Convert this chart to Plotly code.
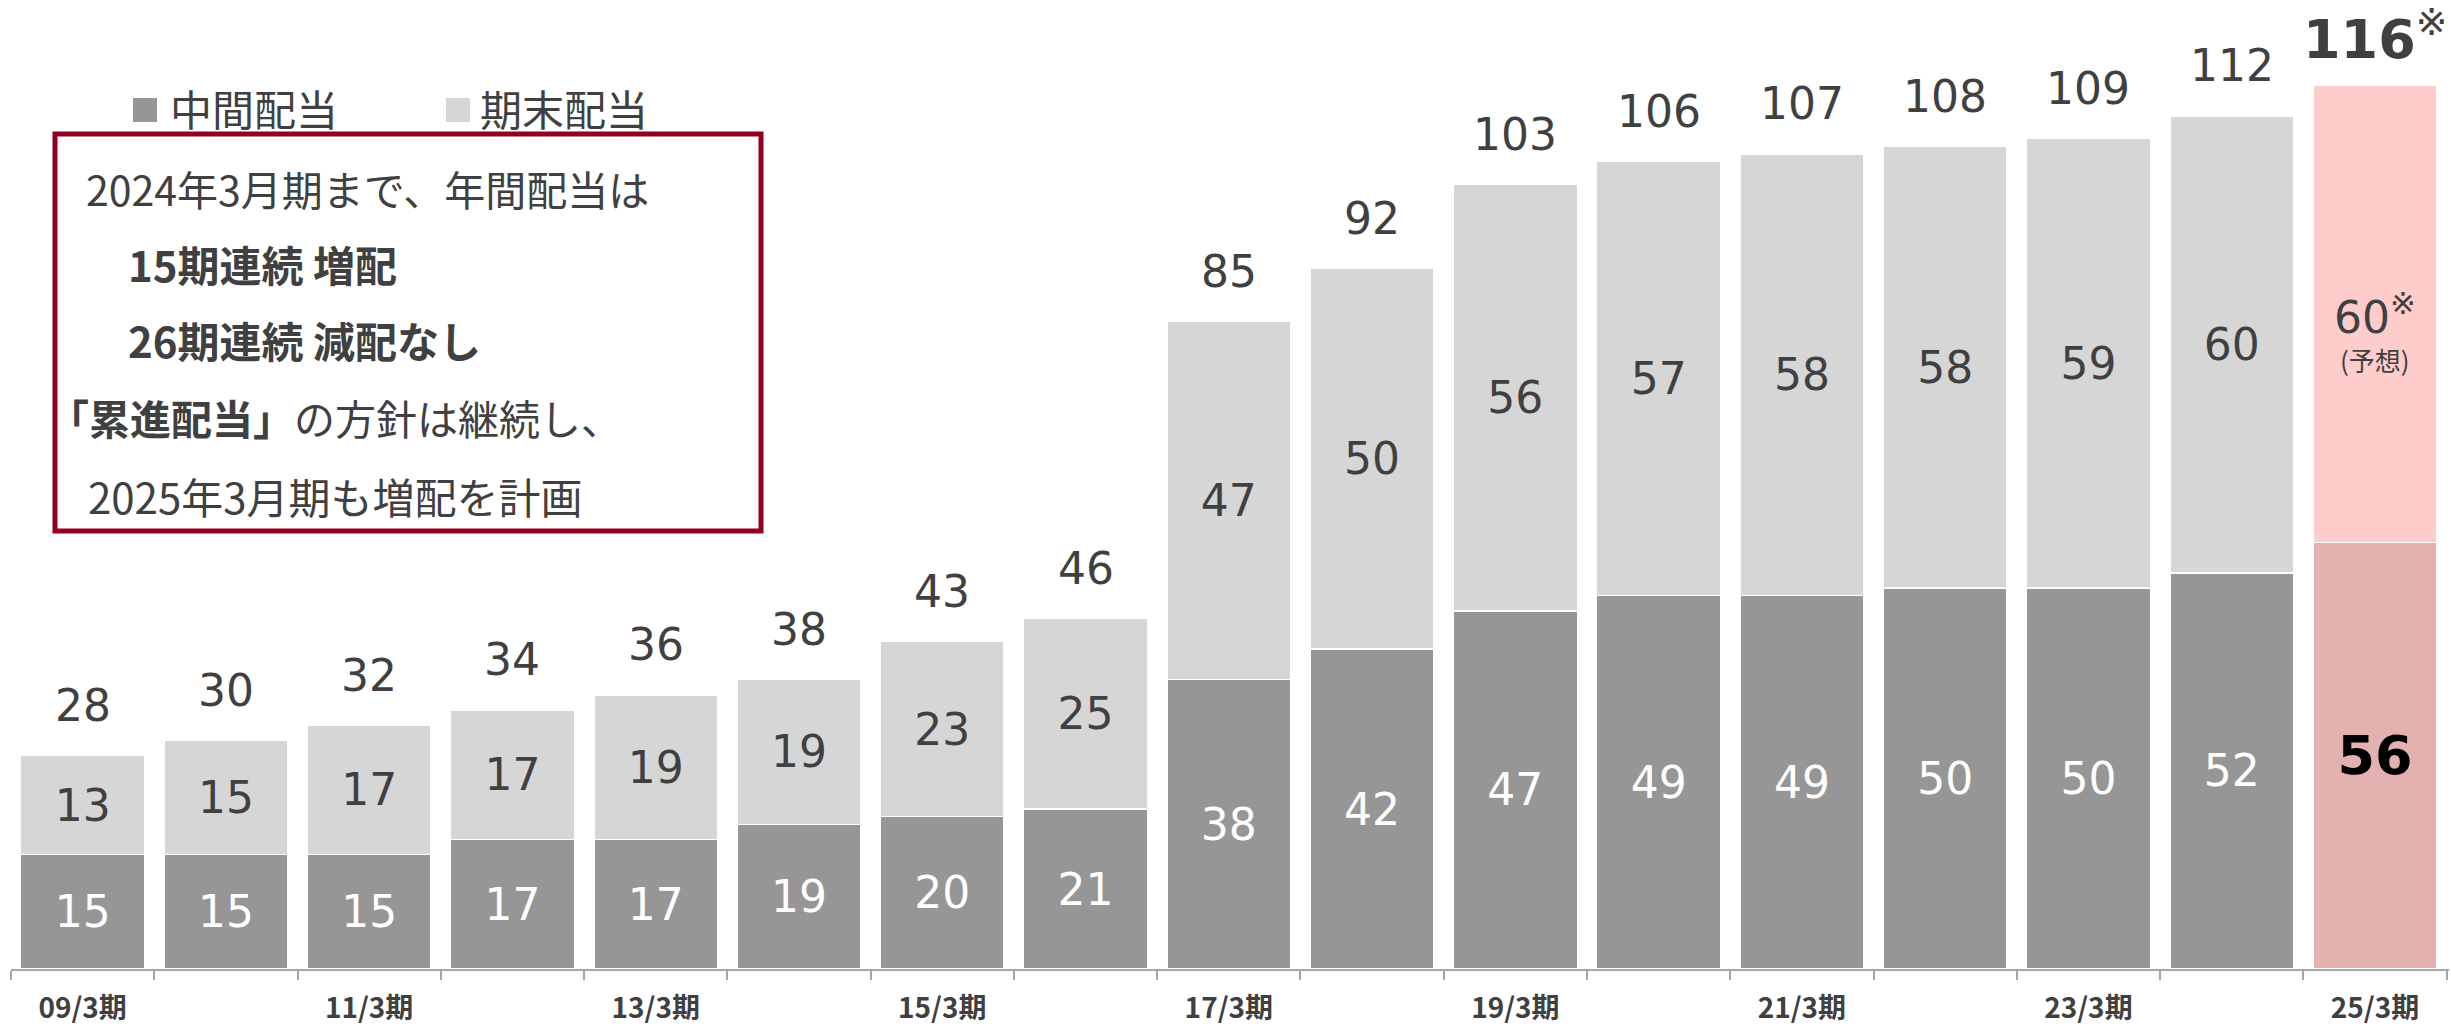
import plotly.graph_objects as go

# ---- data ----
periods = ["09/3期", "10/3期", "11/3期", "12/3期", "13/3期", "14/3期", "15/3期", "16/3期",
           "17/3期", "18/3期", "19/3期", "20/3期", "21/3期", "22/3期", "23/3期", "24/3期", "25/3期"]
tick_labels = ["09/3期", "", "11/3期", "", "13/3期", "", "15/3期", "", "17/3期", "",
               "19/3期", "", "21/3期", "", "23/3期", "", "25/3期"]
interim = [15, 15, 15, 17, 17, 19, 20, 21, 38, 42, 47, 49, 49, 50, 50, 52, 56]
year_end = [13, 15, 17, 17, 19, 19, 23, 25, 47, 50, 56, 57, 58, 58, 59, 60, 60]
totals = [28, 30, 32, 34, 36, 38, 43, 46, 85, 92, 103, 106, 107, 108, 109, 112, 116]
legend_names = ["中間配当", "期末配当"]
forecast_note = "(予想)"
box_lines = [
    "2024年3月期まで、年間配当は",
    "<b>15期連続 増配</b>",
    "<b>26期連続 減配なし</b>",
    "<b>「累進配当」</b>の方針は継続し、",
    "2025年3月期も増配を計画",
]

# ---- layout helpers ----
W, H = 2451, 1026
L, R, T, B = 11, 2, 0, 57
PW, PH = W - L - R, H - T - B


def xp(px):
    return (px - L) / PW


def yp(py):
    return (H - B - py) / PH


DARK = "#969696"
LIGHT = "#d6d6d6"
F_DARK = "#e4b1b1"
F_LIGHT = "#ffcccc"
TXT = "#404040"
NUM_FONT = "DejaVu Sans, Noto Sans CJK JP"
JP_FONT = "Noto Sans CJK JP"

n = len(periods)
interim_colors = [DARK] * (n - 1) + [F_DARK]
year_end_colors = [LIGHT] * (n - 1) + [F_LIGHT]

interim_text = [str(v) for v in interim[:-1]] + [f"<b>{interim[-1]}</b>"]
year_end_text = [str(v) for v in year_end[:-1]] + [f"{year_end[-1]}<sup>※</sup>"]

fig = go.Figure()
fig.add_trace(go.Bar(
    x=periods, y=interim, name=legend_names[0],
    marker=dict(color=interim_colors, line=dict(color="white", width=1.5)),
    text=interim_text, textposition="inside", insidetextanchor="middle", textangle=0,
    textfont=dict(family=NUM_FONT, size=[44] * (n - 1) + [54],
                  color=["white"] * (n - 1) + ["black"]),
    showlegend=False, hoverinfo="skip",
))
fig.add_trace(go.Bar(
    x=periods, y=year_end, name=legend_names[1],
    marker=dict(color=year_end_colors, line=dict(color="white", width=1.5)),
    text=year_end_text, textposition="inside", insidetextanchor="middle", textangle=0,
    textfont=dict(family=NUM_FONT, size=44, color=TXT),
    showlegend=False, hoverinfo="skip",
))

annotations = []
for i, (p, t) in enumerate(zip(periods, totals)):
    if i == n - 1:
        txt = f"<b>{t}</b><sup>※</sup>"
        size = 54
    else:
        txt = str(t)
        size = 44
    annotations.append(dict(x=p, y=t, xref="x", yref="y", text=txt, showarrow=False,
                            yanchor="middle", yshift=50,
                            font=dict(family=NUM_FONT, size=size, color=TXT)))

# forecast note under the last year-end value
annotations.append(dict(x=periods[-1], y=interim[-1] + year_end[-1] / 2, xref="x", yref="y",
                        text=forecast_note, showarrow=False, yanchor="middle", yshift=-46,
                        font=dict(family=JP_FONT, size=26, color=TXT)))

# legend (custom)
shapes = []
leg_sq = [(133, 157), (446, 470)]
leg_tx = [168, 478]
for (x0, x1), tx, name, col in zip(leg_sq, leg_tx, legend_names, [DARK, LIGHT]):
    shapes.append(dict(type="rect", xref="paper", yref="paper",
                       x0=xp(x0), x1=xp(x1), y0=yp(122), y1=yp(98),
                       fillcolor=col, line=dict(width=0)))
    annotations.append(dict(x=xp(tx), y=yp(108), xref="paper", yref="paper", text=name,
                            showarrow=False, xanchor="left", yanchor="middle",
                            font=dict(family=JP_FONT, size=42, color=TXT)))

# message box
shapes.append(dict(type="rect", xref="paper", yref="paper",
                   x0=xp(55), x1=xp(761), y0=yp(531), y1=yp(134),
                   fillcolor="rgba(0,0,0,0)", line=dict(color="#93001f", width=5)))
line_x = [84, 126, 126, 46, 86]
line_y = [188, 263, 339, 417, 495]
line_size = [41, 42, 42, 41, 42]
for txt, lx, ly, fs in zip(box_lines, line_x, line_y, line_size):
    annotations.append(dict(x=xp(lx), y=yp(ly), xref="paper", yref="paper", text=txt,
                            showarrow=False, xanchor="left", yanchor="middle",
                            font=dict(family=JP_FONT, size=fs, color=TXT)))

fig.update_layout(
    width=W, height=H,
    margin=dict(l=L, r=R, t=T, b=B),
    barmode="stack", bargap=0.135,
    plot_bgcolor="white", paper_bgcolor="white",
    annotations=annotations, shapes=shapes,
    xaxis=dict(
        type="category", tickmode="array", tickvals=periods,
        ticktext=[f"<b>{t}</b>" if t else "" for t in tick_labels],
        tickfont=dict(family=JP_FONT, size=28, color=TXT),
        showline=True, linecolor="#a6a6a6", linewidth=1.5,
        ticks="outside", tickson="boundaries", ticklen=9, tickcolor="#a6a6a6", tickwidth=1.5,
        ticklabelstandoff=14,
        showgrid=False, zeroline=False, fixedrange=True,
    ),
    yaxis=dict(visible=False, range=[0, 127.2], fixedrange=True),
)

fig.write_html(
    "out.html",
    config={"displayModeBar": False},
    post_script="document.body.style.margin='0';document.body.style.overflow='hidden';"
                "document.documentElement.style.overflow='hidden';",
)
